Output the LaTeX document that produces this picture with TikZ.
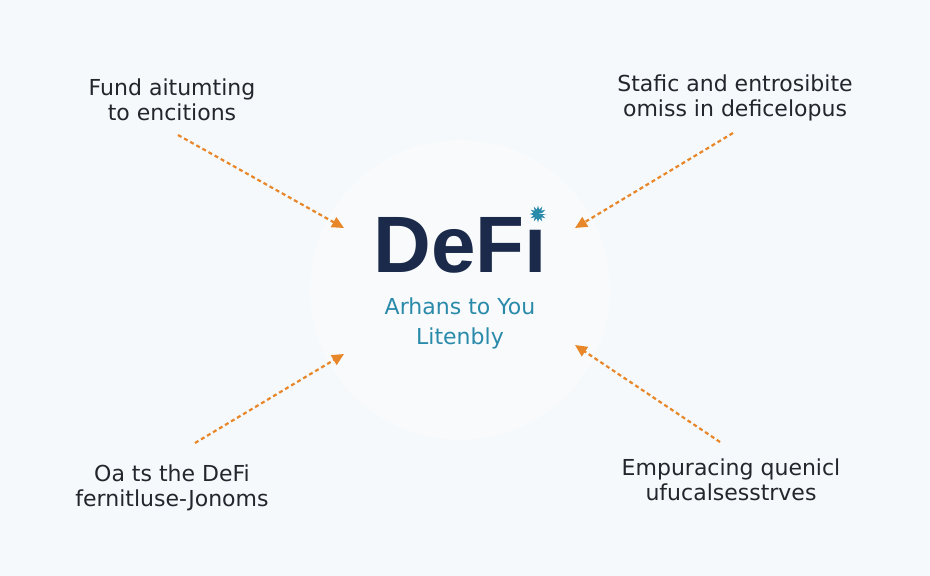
\documentclass[tikz,border=0pt]{standalone}
\usepackage{fontspec}
\setmainfont{Liberation Sans}
\newfontfamily\labfont{DejaVu Sans}
\usetikzlibrary{arrows.meta}
\definecolor{bgc}{HTML}{F5F9FB}
\definecolor{navy}{HTML}{1B2A4A}
\definecolor{teal}{HTML}{2A8AAA}
\definecolor{orng}{HTML}{E8872A}
\definecolor{lbl}{HTML}{22262D}
\tikzset{
  lab/.style={text=lbl, font=\labfont\fontsize{22}{25}\selectfont, align=center, inner sep=0pt},
  sub/.style={text=teal, font=\labfont\fontsize{22}{30}\selectfont, align=center, inner sep=0pt},
  arr/.style={draw=orng, line width=2.2pt, dash pattern=on 4pt off 3pt, -{Triangle[length=12pt,width=11pt]}},
}
\begin{document}
\begin{tikzpicture}[x=1pt,y=-1pt]
\useasboundingbox[fill=bgc] (0,0) rectangle (930,576);
\fill[white, opacity=0.3] (460,290) circle (150);
\node[text=navy, font=\bfseries\fontsize{80}{80}\selectfont, inner sep=0pt, anchor=base] (defi) at (460,272) {DeF\i};
\fill[teal] (538,214) \foreach \k in {0,...,23} { -- ({538+(mod(\k,2)==0 ? 8.5 : 4.5)*cos(\k*15)}, {214+(mod(\k,2)==0 ? 8.5 : 4.5)*sin(\k*15)}) } -- cycle;
\node[sub, anchor=base] (s1) at (460,314) {Arhans to You};
\node[sub, anchor=base] (s2) at (460,344) {Litenbly};
\node[lab] (tl) at (172,100) {Fund aitumting\\to encitions};
\node[lab] (tr) at (735,98) {Stafic and entrosibite\\omiss in deficelopus};
\node[lab] (bl) at (172,488) {Oa ts the DeFi\\fernitluse-Jonoms};
\node[lab] (br) at (731,480) {Empuracing quenicl\\ufucalsesstrves};
\coordinate (a1s) at (178,135); \coordinate (a1e) at (344,228);
\coordinate (a2s) at (733,133); \coordinate (a2e) at (575,228);
\coordinate (a3s) at (195,443); \coordinate (a3e) at (344,354);
\coordinate (a4s) at (720,442); \coordinate (a4e) at (575,345);
\draw[arr] (a1s) -- (a1e);
\draw[arr] (a2s) -- (a2e);
\draw[arr] (a3s) -- (a3e);
\draw[arr] (a4s) -- (a4e);
\end{tikzpicture}
\end{document}
